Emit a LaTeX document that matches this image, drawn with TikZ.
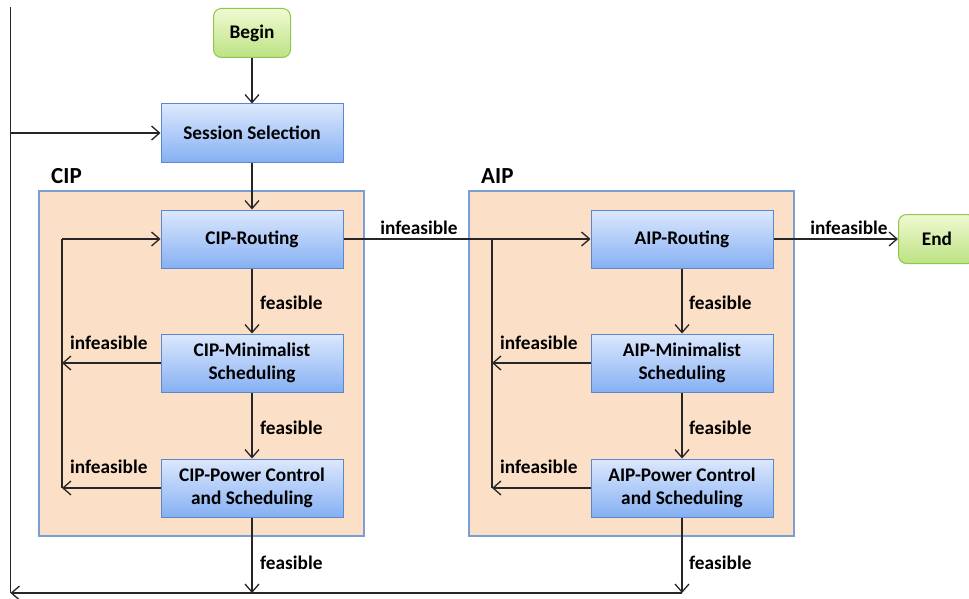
\documentclass[tikz,border=0pt]{standalone}
\usepackage{fontspec}
\setmainfont{Carlito}
\usetikzlibrary{arrows.meta}
\definecolor{peach}{HTML}{FBDFC6}
\definecolor{groupborder}{HTML}{7A9ED6}
\definecolor{bluetop}{HTML}{DCE8FD}
\definecolor{bluebot}{HTML}{86B0F3}
\definecolor{blueborder}{HTML}{5B86D0}
\definecolor{greentop}{HTML}{F0FAD2}
\definecolor{greenbot}{HTML}{BCE283}
\definecolor{greenborder}{HTML}{8EC64E}
\definecolor{linec}{HTML}{262626}
\begin{document}
\begin{tikzpicture}[x=1pt,y=-1pt,
  txt/.style={font=\bfseries\fontsize{19.3}{23}\selectfont},
  proc/.style={txt, draw=blueborder, line width=1pt, top color=bluetop, bottom color=bluebot,
    minimum width=182pt, minimum height=58pt, align=center, inner sep=0pt},
  term/.style={txt, draw=greenborder, line width=1pt, rounded corners=8pt, top color=greentop,
    bottom color=greenbot, minimum width=77pt, minimum height=49pt, inner sep=0pt},
  group/.style={draw=groupborder, fill=peach, line width=1.2pt, inner sep=0pt},
  grouplbl/.style={font=\bfseries\fontsize{23}{26}\selectfont, anchor=west, inner sep=0pt},
  wire/.style={draw=linec, line width=1.3pt},
  conn/.style={wire, -{Straight Barb[length=8pt,width=14pt,line width=1.3pt]}},
  lbl/.style={txt, inner sep=0pt}
]
\useasboundingbox (0,0) rectangle (969,599);
\clip (0,0) rectangle (969,599);

% group boxes
\node[group, minimum width=325pt, minimum height=345pt] (cipbox) at (201.5,363.5) {};
\node[group, minimum width=325pt, minimum height=345pt] (aipbox) at (631.5,363.5) {};
\node[grouplbl] (ciplbl) at (51,176) {CIP};
\node[grouplbl] (aiplbl) at (481,176) {AIP};

% nodes
\node[term] (begin) at (252,33) {Begin};
\node[proc] (sess) at (252,133) {Session Selection};
\node[proc] (ciprt) at (252,239) {CIP-Routing};
\node[proc] (cipmin) at (252,363) {CIP-Minimalist\\Scheduling};
\node[proc] (cippow) at (252,488) {CIP-Power Control\\and Scheduling};
\node[proc] (aiprt) at (682,239) {AIP-Routing};
\node[proc] (aipmin) at (682,363) {AIP-Minimalist\\Scheduling};
\node[proc] (aippow) at (682,488) {AIP-Power Control\\and Scheduling};
\node[term] (end) at (937,239) {End};

% helper coordinates
\coordinate (cfb) at (62,239);
\coordinate (afb) at (492,239);
\coordinate (bl) at (10.5,593);
\coordinate (tl) at (10.5,7);
\coordinate (ssin) at (10.5,133);
\coordinate (cipbot) at (252,593);
\coordinate (aipbot) at (682,593);

% main flow
\draw[conn] (begin) -- (sess);
\draw[conn] (sess) -- (ciprt);
\draw[conn] (ciprt) -- (cipmin);
\draw[conn] (cipmin) -- (cippow);
\draw[conn] (cippow) -- (cipbot);
\draw[conn] (aiprt) -- (aipmin);
\draw[conn] (aipmin) -- (aippow);
\draw[conn] (aippow) -- (aipbot);
\draw[conn] (ciprt) -- (aiprt);
\draw[conn] (aiprt) -- (end);

% outer loop
\draw[conn] (aipbot) -- (bl);
\draw[wire] (bl) -- (tl);
\draw[conn] (ssin) -- (sess);

% CIP inner loop
\draw[conn] (cipmin.west) -- (cipmin.west -| cfb);
\draw[conn] (cippow.west) -- (cippow.west -| cfb);
\draw[wire] (cippow.west -| cfb) -- (cfb);
\draw[conn] (cfb) -- (ciprt);

% AIP inner loop
\draw[conn] (aipmin.west) -- (aipmin.west -| afb);
\draw[conn] (aippow.west) -- (aippow.west -| afb);
\draw[wire] (aippow.west -| afb) -- (afb);

% labels
\node[lbl, anchor=west] (f1) at (260,303) {feasible};
\node[lbl, anchor=west] (f2) at (260,428) {feasible};
\node[lbl, anchor=west] (f3) at (260,563) {feasible};
\node[lbl, anchor=west] (f4) at (689,303) {feasible};
\node[lbl, anchor=west] (f5) at (689,428) {feasible};
\node[lbl, anchor=west] (f6) at (689,563) {feasible};
\node[lbl, anchor=west] (i1) at (70,343) {infeasible};
\node[lbl, anchor=west] (i2) at (70,467) {infeasible};
\node[lbl, anchor=west] (i3) at (500,343) {infeasible};
\node[lbl, anchor=west] (i4) at (500,467) {infeasible};
\node[lbl] (i5) at (419,228) {infeasible};
\node[lbl] (i6) at (849,228) {infeasible};
\end{tikzpicture}
\end{document}
